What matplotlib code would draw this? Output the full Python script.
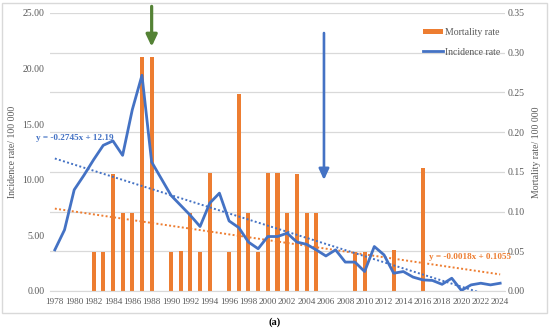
import matplotlib
matplotlib.use("Agg")
import matplotlib.pyplot as plt
from matplotlib.patches import Patch, Rectangle
from matplotlib.lines import Line2D
import numpy as np

years = list(range(1978, 2025))
incidence = [3.7, 5.5, 9.1, 10.4, 11.8, 13.1, 13.5, 12.2, 16.3, 19.4,
             11.6, 10.1, 8.6, 7.7, 6.8, 5.8, 7.9, 8.8, 6.3, 5.7,
             4.4, 3.8, 4.9, 4.9, 5.2, 4.4, 4.2, 3.7, 3.15, 3.7,
             2.6, 2.6, 1.75, 4.0, 3.25, 1.6, 1.75, 1.25, 1.0, 0.95,
             0.6, 1.15, 0.05, 0.55, 0.7, 0.55, 0.7]
mortality = [0, 0, 0, 0, 0.049, 0.049, 0.147, 0.098, 0.098, 0.294,
             0.294, 0, 0.049, 0.05, 0.098, 0.049, 0.148, 0, 0.049, 0.248,
             0.098, 0.049, 0.148, 0.148, 0.098, 0.147, 0.098, 0.098, 0, 0,
             0, 0.049, 0.049, 0, 0, 0.052, 0, 0, 0.155, 0,
             0, 0, 0, 0, 0, 0, 0]
inc_slope, inc_intercept = -0.2745, 12.19
mort_slope, mort_intercept = -0.0018, 0.1055
left_ticks = [0, 5, 10, 15, 20, 25]
right_ticks = [0, 0.05, 0.10, 0.15, 0.20, 0.25, 0.30, 0.35]
xtick_years = list(range(1978, 2025, 2))

BLUE = "#4472C4"
ORANGE = "#ED7D31"
GREEN = "#548235"
GRAY = "#595959"
GRID = "#D9D9D9"
FS = 7

plt.rcParams['font.family'] = ['Liberation Serif', 'DejaVu Serif']

fig = plt.figure(figsize=(5.5, 3.3), dpi=100)
ax1 = fig.add_axes([50/550, 1 - 291/330, 455/550, 278/330])
ax2 = ax1.twinx()
ax1.set_zorder(ax2.get_zorder() + 1)
ax1.patch.set_visible(False)

yrs = np.array(years)
idx = np.arange(1, len(years) + 1)

# bars on right axis
ax2.bar(yrs, mortality, width=0.42, color=ORANGE, zorder=2)
ax2.plot(yrs, mort_slope * idx + mort_intercept, linestyle=(0, (1, 1.2)),
         color=ORANGE, lw=1.4, zorder=3)
ax2.set_ylim(0, 0.35)
ax2.set_yticks(right_ticks)
ax2.set_yticklabels([f"{v:.2f}" for v in right_ticks])

# line on left axis
ax1.plot(yrs, incidence, color=BLUE, lw=2.0, zorder=5)
ax1.plot(yrs, inc_slope * idx + inc_intercept, linestyle=(0, (1, 1.2)),
         color=BLUE, lw=1.4, zorder=4)
ax1.set_ylim(0, 25)
ax1.set_xlim(1977.5, 2024.5)
ax1.set_yticks(left_ticks)
ax1.set_yticklabels([f"{v:.2f}" for v in left_ticks])
ax1.set_xticks(xtick_years)
ax1.set_xticklabels([str(y) for y in xtick_years])

ax2.set_axisbelow(True)
ax2.grid(axis='y', color=GRID, lw=0.9, zorder=0)
ax1.grid(False)

for ax in (ax1, ax2):
    for s in ('top', 'left', 'right'):
        ax.spines[s].set_visible(False)
    ax.spines['bottom'].set_color(GRID)
    ax.tick_params(length=0, labelsize=FS, labelcolor=GRAY, pad=4)
ax2.spines['bottom'].set_visible(False)
ax1.tick_params(axis='x', pad=5, labelsize=6.6)
ax2.tick_params(axis='y', pad=2)

ax1.set_ylabel("Incidence rate/ 100 000", fontsize=FS, color=GRAY, labelpad=4)
ax2.set_ylabel("Mortality rate/ 100 000", fontsize=FS, color=GRAY, labelpad=5)

# trend equations
ax1.text(1976.1, 13.76, "y = -0.2745x + 12.19", color=BLUE, fontsize=6.6,
         fontweight='bold', ha='left', va='center')
ax1.text(2016.6, 3.06, "y = -0.0018x + 0.1055", color=ORANGE, fontsize=6.6,
         fontweight='bold', ha='left', va='center')

# arrows
ax1.annotate("", xy=(1988, 21.97), xytext=(1988, 25.6),
             arrowprops=dict(arrowstyle="-|>,head_length=0.7,head_width=0.33",
                             color=GREEN, lw=2.3, mutation_scale=10,
                             shrinkA=0, shrinkB=0),
             annotation_clip=False)
ax1.annotate("", xy=(2005.8, 9.98), xytext=(2005.8, 23.2),
             arrowprops=dict(arrowstyle="-|>,head_length=0.65,head_width=0.3",
                             color=BLUE, lw=1.9, mutation_scale=10,
                             shrinkA=0, shrinkB=0),
             annotation_clip=False)

# legend
handles = [Patch(facecolor=ORANGE, edgecolor='none', label="Mortality rate"),
           Line2D([0], [0], color=BLUE, lw=2.0, label="Incidence rate")]
leg = fig.legend(handles=handles, loc='upper right',
                 bbox_to_anchor=(504/550, 1 - 24/330), frameon=False,
                 fontsize=FS, handlelength=2.0, handleheight=0.5,
                 handletextpad=0.2, labelspacing=1.1, borderaxespad=0)
for t in leg.get_texts():
    t.set_color(GRAY)

# outer border
fig.patches.append(Rectangle((2/550, 1 - 313/330), 545/550, 310/330,
                             transform=fig.transFigure, fill=False,
                             edgecolor=GRID, lw=1.0))
fig.text(275/550, 1 - 322/330, "(a)", ha='center', va='center',
         fontsize=7.5, fontweight='bold', color='black')

fig.savefig("out.png", dpi=100)
